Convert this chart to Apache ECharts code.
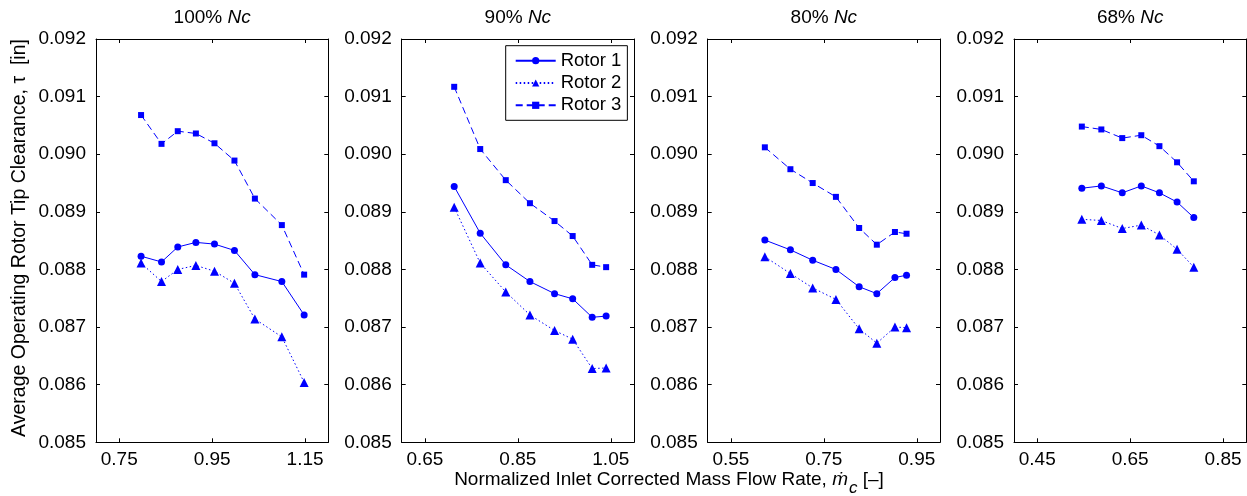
<!DOCTYPE html>
<html>
<head>
<meta charset="utf-8">
<script src="https://cdn.jsdelivr.net/npm/echarts@6/dist/echarts.min.js"></script>
<style>
html,body{margin:0;padding:0;background:#fff;}
#c{width:1247px;height:496px;}
</style>
</head>
<body>
<div id="c"></div>
<script>
// ---------- data ----------
const panelTitles = ['100%', '90%', '80%', '68%'];
const seriesNames = ['Rotor 1', 'Rotor 2', 'Rotor 3'];

const x100 = [0.797, 0.841, 0.876, 0.915, 0.955, 0.998, 1.042, 1.100, 1.148];
const r1_100 = [0.08823, 0.08813, 0.08839, 0.08847, 0.08844, 0.08833, 0.08791, 0.08779, 0.08721];
const r2_100 = [0.08811, 0.08779, 0.08800, 0.08807, 0.08797, 0.08776, 0.08714, 0.08683, 0.08604];
const r3_100 = [0.09068, 0.09018, 0.09040, 0.09036, 0.09019, 0.08989, 0.08923, 0.08877, 0.08791];

const x90 = [0.713, 0.769, 0.824, 0.876, 0.929, 0.968, 1.010, 1.040];
const r1_90 = [0.08944, 0.08863, 0.08808, 0.08779, 0.08758, 0.08749, 0.08717, 0.08719];
const r2_90 = [0.08908, 0.08811, 0.08761, 0.08721, 0.08694, 0.08679, 0.08628, 0.08629];
const r3_90 = [0.09117, 0.09009, 0.08955, 0.08915, 0.08884, 0.08858, 0.08808, 0.08804];

const x80 = [0.623, 0.678, 0.726, 0.776, 0.826, 0.864, 0.903, 0.928];
const r1_80 = [0.08851, 0.08834, 0.08816, 0.08800, 0.08770, 0.08758, 0.08786, 0.08790];
const r2_80 = [0.08822, 0.08793, 0.08768, 0.08748, 0.08697, 0.08672, 0.08700, 0.08699];
const r3_80 = [0.09012, 0.08974, 0.08950, 0.08926, 0.08872, 0.08843, 0.08865, 0.08862];

const x68 = [0.546, 0.588, 0.633, 0.674, 0.713, 0.751, 0.787];
const r1_68 = [0.08941, 0.08945, 0.08933, 0.08945, 0.08933, 0.08917, 0.08890];
const r2_68 = [0.08887, 0.08885, 0.08871, 0.08877, 0.08860, 0.08835, 0.08804];
const r3_68 = [0.09048, 0.09043, 0.09028, 0.09033, 0.09014, 0.08986, 0.08953];

const xMins = [0.70, 0.60, 0.50, 0.40];
const xMaxs = [1.20, 1.10, 1.00, 0.90];
const xTicks100 = [0.75, 0.95, 1.15];
const xTicks90 = [0.65, 0.85, 1.05];
const xTicks80 = [0.55, 0.75, 0.95];
const xTicks68 = [0.45, 0.65, 0.85];
const yMin = 0.085, yMax = 0.092, yStep = 0.001;

const xLabel = 'Normalized Inlet Corrected Mass Flow Rate, ';
const yLabel = 'Average Operating Rotor Tip Clearance, \u03C4  [in]';

// ---------- layout / style ----------
const FONT = '"Liberation Sans", Arial, Helvetica, sans-serif';
const FS = 19;
const BLUE = '#0000ff';
const gridLefts = [96, 401.7, 707.7, 1014];
const gridW = 232.3, gridTop = 39, gridH = 403.3;

const panels = [
  {x: x100, ys: [r1_100, r2_100, r3_100], ticks: xTicks100},
  {x: x90, ys: [r1_90, r2_90, r3_90], ticks: xTicks90},
  {x: x80, ys: [r1_80, r2_80, r3_80], ticks: xTicks80},
  {x: x68, ys: [r1_68, r2_68, r3_68], ticks: xTicks68}
];
const symbols = ['circle', 'triangle', 'rect'];
const symbolSizes = [7, 9, 6];
const lineTypes = ['solid', [1.5, 2.5], [7, 4]];

const grid = [], xAxis = [], yAxis = [], series = [], graphic = [];
const axisLineStyle = {color: '#000', width: 1};

panels.forEach((p, i) => {
  grid.push({left: gridLefts[i], top: gridTop, width: gridW, height: gridH, containLabel: false});
  xAxis.push({
    type: 'value', gridIndex: i, position: 'bottom', min: xMins[i], max: xMaxs[i],
    axisLine: {show: true, onZero: false, lineStyle: axisLineStyle},
    axisTick: {show: true, inside: true, length: 4, customValues: p.ticks, lineStyle: axisLineStyle},
    axisLabel: {show: true, customValues: p.ticks, formatter: v => v.toFixed(2), color: '#000',
      fontFamily: FONT, fontSize: FS, margin: 8},
    splitLine: {show: false}
  });
  xAxis.push({
    type: 'value', gridIndex: i, position: 'top', min: xMins[i], max: xMaxs[i],
    axisLine: {show: true, onZero: false, lineStyle: axisLineStyle},
    axisTick: {show: true, inside: true, length: 4, customValues: p.ticks, lineStyle: axisLineStyle},
    axisLabel: {show: false},
    splitLine: {show: false}
  });
  yAxis.push({
    type: 'value', gridIndex: i, position: 'left', min: yMin, max: yMax, interval: yStep,
    axisLine: {show: true, onZero: false, lineStyle: axisLineStyle},
    axisTick: {show: true, inside: true, length: 4, lineStyle: axisLineStyle},
    axisLabel: {show: true, formatter: v => v.toFixed(3), color: '#000', fontFamily: FONT, fontSize: FS, margin: 10},
    splitLine: {show: false}
  });
  yAxis.push({
    type: 'value', gridIndex: i, position: 'right', min: yMin, max: yMax, interval: yStep,
    axisLine: {show: true, onZero: false, lineStyle: axisLineStyle},
    axisTick: {show: true, inside: true, length: 4, lineStyle: axisLineStyle},
    axisLabel: {show: false},
    splitLine: {show: false}
  });
  p.ys.forEach((ys, r) => {
    series.push({
      type: 'line', name: seriesNames[r], xAxisIndex: 2 * i, yAxisIndex: 2 * i,
      data: p.x.map((xv, k) => [xv, ys[k]]),
      symbol: symbols[r], symbolSize: symbolSizes[r], showSymbol: true,
      lineStyle: {color: BLUE, width: 1, type: lineTypes[r]},
      itemStyle: {color: BLUE},
      emphasis: {disabled: true},
      animation: false, silent: true
    });
  });
  graphic.push({
    type: 'text', x: gridLefts[i] + gridW / 2, y: 18,
    style: {
      text: '{a|' + panelTitles[i] + ' }{i|Nc}',
      align: 'center', verticalAlign: 'middle', fill: '#000',
      rich: {
        a: {fontFamily: FONT, fontSize: FS, fill: '#000'},
        i: {fontFamily: FONT, fontSize: FS, fontStyle: 'italic', fill: '#000'}
      }
    }
  });
});

graphic.push({
  type: 'text', x: 20, y: 238, rotation: Math.PI / 2,
  style: {text: yLabel, fontFamily: FONT, fontSize: 19.5, fill: '#000', align: 'center', verticalAlign: 'middle'}
});
graphic.push({
  type: 'text', x: 669, y: 480,
  style: {
    text: '{a|' + xLabel + '}{i|\u1E41}{s|c}{a| [\u2013]}',
    align: 'center', verticalAlign: 'middle', fill: '#000',
    rich: {
      a: {fontFamily: FONT, fontSize: FS, fill: '#000'},
      i: {fontFamily: FONT, fontSize: FS, fontStyle: 'italic', fill: '#000'},
      s: {fontFamily: FONT, fontSize: 17, fontStyle: 'italic', fill: '#000', padding: [16, 0, 0, 1]}
    }
  }
});

const option = {
  animation: false,
  backgroundColor: '#fff',
  grid, xAxis, yAxis, series, graphic,
  legend: {
    show: true, data: seriesNames, orient: 'vertical',
    left: 505.7, top: 45.7,
    itemWidth: 40, itemHeight: 9, itemGap: 2.3,
    padding: [5, 6, 5, 9],
    borderColor: '#000', borderWidth: 1, backgroundColor: '#fff',
    textStyle: {fontFamily: FONT, fontSize: 18.5, color: '#000', lineHeight: 20},
    selectedMode: false
  }
};

const chart = echarts.init(document.getElementById('c'), null, {renderer: 'canvas'});
chart.setOption(option);
</script>
</body>
</html>
